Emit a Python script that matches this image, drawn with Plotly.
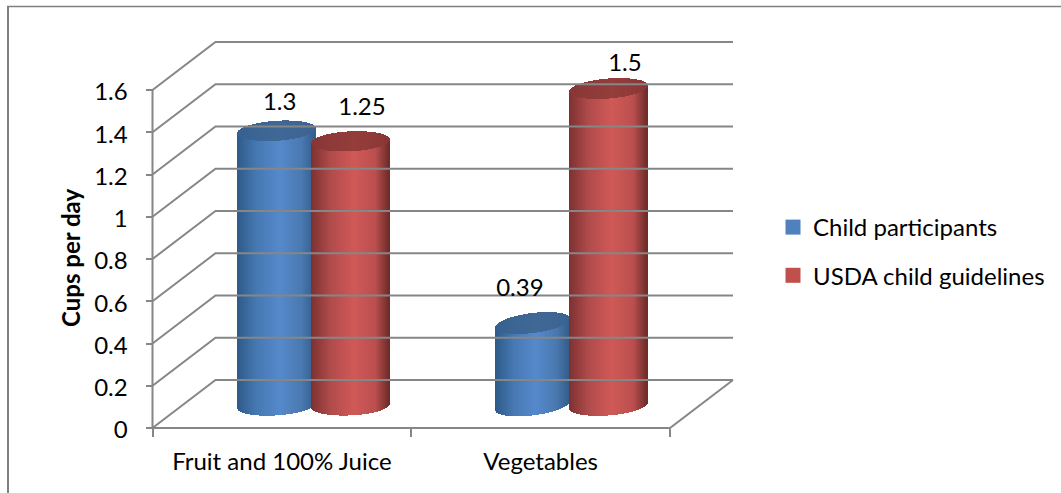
import numpy as np
import plotly.graph_objects as go

# Chart data
categories = ["Fruit and 100% Juice", "Vegetables"]
series_names = ["Child participants", "USDA child guidelines"]
child_participants = [1.3, 0.39]
usda_guidelines = [1.25, 1.5]
value_ticks = [0, 0.2, 0.4, 0.6, 0.8, 1, 1.2, 1.4, 1.6]
value_labels = ["0", "0.2", "0.4", "0.6", "0.8", "1", "1.2", "1.4", "1.6"]

W, H = 1061, 493
FONT = "Lato"
TEXT_SIZE = 24
GRID = "#868686"

# Pixel scale of the axes and the origin of the plotting floor
PX_X, PX_Y = 258.75, 211.25
X0, Y0 = 152.5, 428.0
DEPTH_X, DEPTH_Y = 63 / PX_X, 48 / PX_Y
FLOOR_OFFSET = 0.107          # cylinders stand partway into the floor
CAP_RY = 10 / PX_Y

# Horizontal gradient stops, running from the left edge to the right edge
STOPS = [-1.0, -0.5, 0.1, 0.65, 1.0]
BLUE = ["#2d5a88", "#4678b2", "#5589cb", "#4a79b0", "#335d8a"]
RED = ["#7c3130", "#b04b4b", "#d05957", "#ba4f4e", "#6c2b2a"]
BLUE_CAP = ["#35608f", "#3b6593", "#3f6896", "#3d6694", "#38628f"]
RED_CAP = ["#873635", "#8e3a39", "#943d3b", "#8f3a39", "#863534"]


def ramp(stops, u):
    rgb = np.array([[int(c[i:i + 2], 16) for i in (1, 3, 5)] for c in stops])
    vals = [np.interp(u, STOPS, rgb[:, k]) for k in range(3)]
    return [f"rgb({r:.0f},{g:.0f},{b:.0f})" for r, g, b in zip(*vals)]


def cylinder_traces(center, half_px, value, body, cap, tilt_px):
    half = half_px / PX_X
    n = int(round(2 * half_px))
    u = (np.arange(n) + 0.5) / n * 2 - 1
    xs = center + u * half
    arc = CAP_RY * np.sqrt(1 - u ** 2)
    tilt = tilt_px / PX_Y * u
    low = FLOOR_OFFSET + tilt - arc
    top_mid = FLOOR_OFFSET + value + tilt
    width = 1.02 * 2 * half / n
    common = dict(x=xs, width=width, hoverinfo="skip", showlegend=False)
    return [
        go.Bar(y=top_mid + arc - low, base=low,
               marker=dict(color=ramp(body, u), line_width=0), **common),
        go.Bar(y=2 * arc, base=top_mid - arc,
               marker=dict(color=ramp(cap, u), line_width=0), **common),
    ]


fig = go.Figure()

# Wall gridlines and the floor outline
grid_x, grid_y = [], []
for v in value_ticks:
    grid_x += [0, DEPTH_X, 2 + DEPTH_X, None]
    grid_y += [v, v + DEPTH_Y, v + DEPTH_Y, None]
grid_x += [0, 0, None, 0, 2, 2 + DEPTH_X]
grid_y += [0, 1.6, None, 0, 0, DEPTH_Y]
fig.add_trace(go.Scatter(x=grid_x, y=grid_y, mode="lines", showlegend=False,
                         hoverinfo="skip",
                         line=dict(color=GRID, width=2)))

# Cylinders, drawn left to right so that each overlaps the previous one
positions = [(0.48, 0.767), (1.47, 1.764)]
half_widths = [(39, 39), (37, 39)]
tilts = [(2.5, 1.8), (4.5, 3.0)]
for i in range(len(categories)):
    for t in cylinder_traces(positions[i][0], half_widths[i][0], child_participants[i], BLUE, BLUE_CAP, tilts[i][0]):
        fig.add_trace(t)
    for t in cylinder_traces(positions[i][1], half_widths[i][1], usda_guidelines[i], RED, RED_CAP, tilts[i][1]):
        fig.add_trace(t)

# Value labels above each cylinder
label_dx = [3 / PX_X, 11 / PX_X, -13 / PX_X, 16 / PX_X]
label_dy = [27 / PX_Y, 32 / PX_Y, 33 / PX_Y, 24 / PX_Y]
label_x = [positions[0][0], positions[0][1], positions[1][0], positions[1][1]]
label_v = [child_participants[0], usda_guidelines[0], child_participants[1], usda_guidelines[1]]
fig.add_trace(go.Scatter(
    x=[a + b for a, b in zip(label_x, label_dx)],
    y=[FLOOR_OFFSET + v + d for v, d in zip(label_v, label_dy)],
    text=[f"{v:g}" for v in label_v],
    mode="text", textposition="middle center", showlegend=False, hoverinfo="skip",
    textfont=dict(family=FONT, size=TEXT_SIZE, color="black"),
))

# Legend entries
for name, colour in zip(series_names, ["#4f81bd", "#c0504d"]):
    fig.add_trace(go.Scatter(x=[None], y=[None], name=name, mode="markers",
                             legendgroup=name,
                             marker=dict(symbol="square", size=15, color=colour)))

fig.update_layout(
    width=W, height=H,
    margin=dict(l=0, r=0, t=0, b=0),
    paper_bgcolor="white", plot_bgcolor="white",
    barmode="overlay", bargap=0,
    font=dict(family=FONT, size=TEXT_SIZE, color="black"),
    xaxis=dict(
        type="linear", automargin=False,
        domain=[120 / W, 745 / W],
        range=[(120 - X0) / PX_X, (745 - X0) / PX_X],
        anchor="free", position=(H - Y0) / H,
        tickvals=[0.5, 1.5], ticktext=categories,
        ticks="outside", ticklen=12, tickwidth=0, tickcolor="rgba(0,0,0,0)",
        minor=dict(tickvals=[0, 1, 2], ticks="outside", ticklen=8, tickwidth=2, tickcolor=GRID),
        showgrid=False, zeroline=False, showline=False,
    ),
    yaxis=dict(
        automargin=False,
        domain=[(H - 440) / H, (H - 30) / H],
        range=[(Y0 - 440) / PX_Y, (Y0 - 30) / PX_Y],
        anchor="free", position=X0 / W,
        tickvals=value_ticks, ticktext=value_labels,
        ticks="outside", ticklen=7, tickwidth=2, tickcolor=GRID,
        ticklabelstandoff=13, ticklabelshift=2,
        showgrid=False, zeroline=False, showline=False,
    ),
    legend=dict(x=773 / W, xanchor="left", y=(H - 205) / H, yanchor="top",
                tracegroupgap=14, bgcolor="rgba(0,0,0,0)",
                font=dict(family=FONT, size=TEXT_SIZE, color="black")),
    annotations=[dict(
        text="<b>Cups per day</b>", xref="paper", yref="paper",
        x=70 / W, y=(H - 258) / H, xanchor="center", yanchor="middle",
        textangle=-90, showarrow=False,
        font=dict(family=FONT, size=24, color="black"),
    )],
    shapes=[
        dict(type="line", xref="paper", yref="paper", x0=8 / W, x1=8 / W,
             y0=0, y1=(H - 6) / H, line=dict(color="#808080", width=2)),
        dict(type="line", xref="paper", yref="paper", x0=7 / W, x1=1,
             y0=(H - 6.5) / H, y1=(H - 6.5) / H, line=dict(color="#808080", width=1.5)),
    ],
)

fig.write_html("out.html", config=dict(displayModeBar=False))
